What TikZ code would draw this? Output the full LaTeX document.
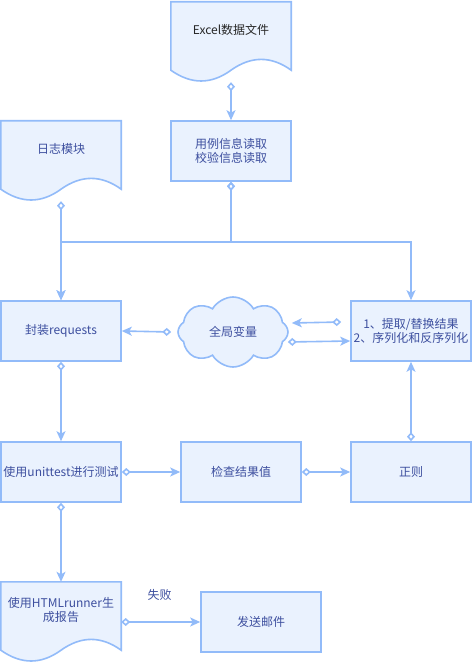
\documentclass[tikz,border=0pt]{standalone}
\usepackage{fontspec}
\setmainfont{Noto Sans CJK SC}
\usetikzlibrary{arrows.meta,shapes.symbols}
\definecolor{boxline}{HTML}{92BBF9}
\definecolor{boxfill}{HTML}{EAF2FE}
\definecolor{boxtext}{HTML}{3D4F9F}
\tikzset{
  txt/.style={text=boxtext, font=\fontsize{12}{14.5}\selectfont, align=center, inner sep=0pt},
  outline/.style={draw=boxline, fill=boxfill, line width=1.6pt},
  box/.style={outline, txt, minimum width=120pt, minimum height=60pt},
  doc/.style={minimum width=120pt, minimum height=80pt, inner sep=0pt},
  blob/.style={outline, txt, cloud, cloud puffs=8, cloud puff arc=120, aspect=1.55,
    minimum width=110pt, minimum height=70pt},
  conn/.style={draw=boxline, line width=1.6pt,
    {Diamond[open,length=9pt,width=8pt]}-{Stealth[length=10pt,width=9pt,inset=2.5pt]}},
}
\newcommand\docnode[3]{%
  \node[doc] (#1) at (#2) {};
  \filldraw[outline] (#1.north west) -- (#1.north east) -- ([yshift=12pt]#1.south east)
    .. controls ([shift={(-20pt,26.4pt)}]#1.south east) and ([shift={(-40pt,26.4pt)}]#1.south east) .. ([yshift=12pt]#1.south)
    .. controls ([shift={(-80pt,-2.4pt)}]#1.south east) and ([shift={(-100pt,-2.4pt)}]#1.south east) .. ([yshift=12pt]#1.south west)
    -- cycle;
  \node[txt] (#1 text) at ([yshift=12pt]#1.center) {#3};}
\begin{document}
\begin{tikzpicture}[x=1pt,y=-1pt]
\useasboundingbox (0,0) rectangle (473,663);
\docnode{excel}{231,42}{\color{black!85}Excel数据文件}
\docnode{log}{61,161}{日志模块}
\docnode{report}{61,622}{使用HTMLrunner生\\成报告}
\node[box] (caseread) at (231,151) {用例信息读取\\校验信息读取};
\node[box] (wrap) at (61,331) {封装requests};
\node[blob] (globals) at (233,332) {全局变量};
\node[box] (extract) at (411,331) {1、提取/替换结果\\2、序列化和反序列化};
\node[box] (unittest) at (61,472) {使用unittest进行测试};
\node[box] (check) at (241,472) {检查结果值};
\node[box] (regex) at (411,472) {正则};
\node[box] (mail) at (261,622) {发送邮件};

\draw[conn] (excel.south) -- (caseread.north);
\draw[conn] (log.south) -- (wrap.north);
\draw[conn] (caseread.south) -- ++(0,60) -| (wrap.north);
\draw[conn] (caseread.south) -- ++(0,60) -| (extract.north);
\draw[conn] ([xshift=-6pt]globals.west) -- (wrap.east);
\draw[conn] ([shift={(-9pt,9pt)}]extract.west) -- ([shift={(3pt,9pt)}]globals.east);
\draw[conn] ([shift={(-1pt,-10pt)}]globals.east) -- ([yshift=-10pt]extract.west);
\draw[conn] (wrap.south) -- (unittest.north);
\draw[conn] (unittest.east) -- (check.west);
\draw[conn] (check.east) -- (regex.west);
\draw[conn] (regex.north) -- (extract.south);
\draw[conn] (unittest.south) -- (report.north);
\draw[conn] (report.east |- mail.west) -- (mail.west) node[txt, midway, above=21pt, xshift=-1pt] (fail) {失败};
\end{tikzpicture}
\end{document}
